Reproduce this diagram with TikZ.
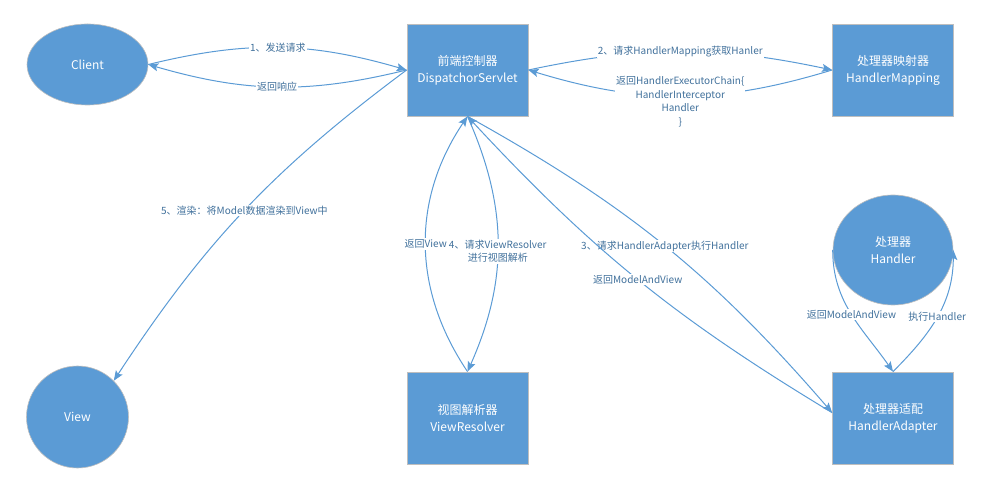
\documentclass[tikz,border=0pt]{standalone}
\usepackage{fontspec}
\setmainfont{Noto Sans CJK SC}
\usetikzlibrary{arrows.meta,shapes.geometric}
\definecolor{officeblue}{RGB}{91,155,213}
\definecolor{labelblue}{RGB}{65,113,156}
\definecolor{rimgrey}{RGB}{190,190,190}

\begin{document}
\begin{tikzpicture}[
    box/.style={draw=rimgrey, fill=officeblue, line width=0.8pt, minimum width=121pt, minimum height=92pt,
        text=white, align=center, font=\fontsize{12}{17}\selectfont},
    blob/.style={ellipse, draw=rimgrey, fill=officeblue, line width=0.6pt, inner sep=0pt,
        text=white, align=center, font=\fontsize{12}{17}\selectfont},
    flow/.style={draw=officeblue, line width=1pt, -{Stealth[length=10pt,width=8pt,inset=2pt]}},
    tag/.style={fill=white, text=labelblue, inner sep=1pt, align=center, font=\fontsize{10}{13.5}\selectfont}
]

    % 0. 画布大小
    \useasboundingbox (0,0) rectangle (985pt,498pt);

    % 1. 左侧：Client 与 View
    \node[blob, minimum width=121pt, minimum height=81pt] (client) at (87.5pt,433.5pt) {Client};
    \node[blob, minimum width=102pt, minimum height=102pt] (view) at (77.5pt,81pt) {View};

    % 2. 中间：前端控制器与视图解析器
    \node[box] (dispatcher) at (467.5pt,428pt) {前端控制器\\DispatchorServlet};
    \node[box] (resolver) at (467.5pt,80pt) {视图解析器\\ViewResolver};

    % 3. 右侧：映射器、处理器、适配器
    \node[box] (mapping) at (893pt,428pt) {处理器映射器\\HandlerMapping};
    \node[blob, minimum width=120pt, minimum height=110pt] (handler) at (893pt,248pt) {处理器\\Handler};
    \node[box] (adapter) at (893pt,80pt) {处理器适配\\HandlerAdapter};

    % 4. 请求与响应
    \draw[flow] (client.east) to[bend left=15] node[tag] {1、发送请求} (dispatcher.west);
    \draw[flow] (dispatcher.west) to[bend left=15] node[tag] {返回响应} (client.east);

    % 5. 获取 Handler
    \draw[flow] (dispatcher.east) to[bend left=12] node[tag] {2、请求HandlerMapping获取Hanler} (mapping.west);
    \draw[flow] (mapping.west) to[bend left=17]
        node[tag, yshift=-6pt] {返回HandlerExecutorChain\{\\HandlerInterceptor\\Handler\\\}} (dispatcher.east);

    % 6. 适配器执行
    \draw[flow] (dispatcher.south) to[bend left=10] node[tag] {3、请求HandlerAdapter执行Handler} (adapter.175);
    \draw[flow] (adapter.175) to[bend left=8] node[tag] {返回ModelAndView} (dispatcher.south);
    \draw[flow] (handler.west) to[out=-90, in=125] node[tag] {返回ModelAndView} (adapter.north);
    \draw[flow] (adapter.north) to[out=45, in=-90] node[tag] {执行Handler} (handler.east);

    % 7. 视图解析
    \draw[flow] (dispatcher.south) to[bend left=24] node[tag, pos=0.53] {4、请求ViewResolver\\进行视图解析} (resolver.north);
    \draw[flow] (resolver.north) to[bend left=34] node[tag] {返回View} (dispatcher.south);

    % 8. 渲染
    \draw[flow] (dispatcher.west) to[bend right=10] node[tag] {5、渲染：将Model数据渲染到View中} (view.45);

\end{tikzpicture}
\end{document}
